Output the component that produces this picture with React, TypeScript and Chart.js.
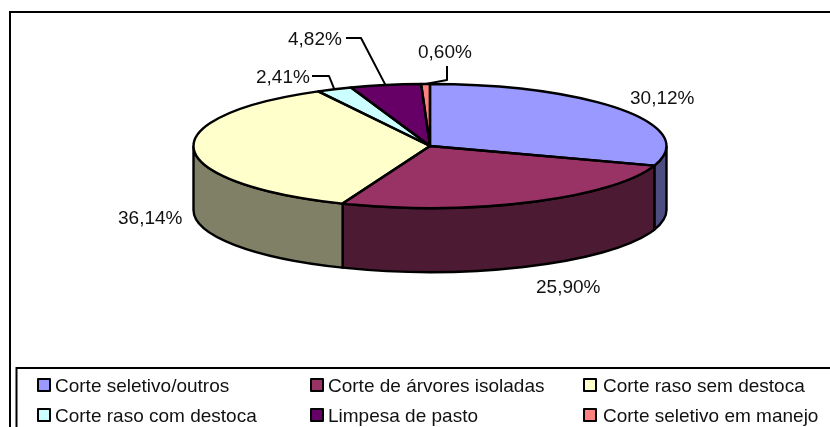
import React, { useEffect, useRef } from "react";
import { Chart, registerables } from "chart.js";

Chart.register(...registerables);

const categories = [
  "Corte seletivo/outros",
  "Corte de árvores isoladas",
  "Corte raso sem destoca",
  "Corte raso com destoca",
  "Limpesa de pasto",
  "Corte seletivo em manejo",
];
const shares = [30.12, 25.9, 36.14, 2.41, 4.82, 0.6];
const shareLabels = ["30,12%", "25,90%", "36,14%", "2,41%", "4,82%", "0,60%"];
const topColors = ["#9999FF", "#993366", "#FFFFCC", "#CCFFFF", "#660066", "#FF8080"];
const wallColors = ["#4D4D80", "#4D1A33", "#808066", "#668080", "#330033", "#804040"];

// Layout
const LEGEND_FONT = '19px "Liberation Sans", Arial, sans-serif';
const LABEL_FONT = '19px "Liberation Sans", Arial, sans-serif';
const TEXT = "#111";
const RX = 236.5;
const RY = 62;
const DEPTH = 64;
// label left x, baseline y, and optional leader bend points
const labelLayout: { x: number; y: number; bend?: number[][] }[] = [
  { x: 630, y: 104 },
  { x: 536, y: 293 },
  { x: 118, y: 224 },
  { x: 256, y: 83, bend: [[312, 76], [329, 76]] },
  { x: 288, y: 45, bend: [[346, 38], [361, 38]] },
  { x: 418, y: 58, bend: [[447, 66], [447, 80]] },
];
const legendBoxX = [38, 311, 584];
const legendTextX = [55, 328, 603];
const legendRows = [392, 422];

const pie3d = {
  id: "pie3d",
  beforeDatasetsDraw(chart: any) {
    const ctx = chart.ctx;
    const arcs = chart.getDatasetMeta(0).data;
    const k = RY / RX;
    ctx.save();
    // frames
    ctx.strokeStyle = "#000";
    ctx.lineWidth = 2;
    ctx.beginPath();
    ctx.moveTo(10, 440);
    ctx.lineTo(10, 12);
    ctx.lineTo(840, 12);
    ctx.moveTo(16.5, 440);
    ctx.lineTo(16.5, 368);
    ctx.lineTo(840, 368);
    ctx.stroke();
    // extruded front wall
    ctx.lineWidth = 2.4;
    arcs.forEach((arc: any, i: number) => {
      const a1 = Math.max(arc.startAngle, 0);
      const a2 = Math.min(arc.endAngle, Math.PI);
      if (a2 <= a1) return;
      const r = arc.outerRadius;
      ctx.beginPath();
      ctx.ellipse(arc.x, arc.y, r, r * k, 0, a1, a2, false);
      ctx.ellipse(arc.x, arc.y + DEPTH, r, r * k, 0, a2, a1, true);
      ctx.closePath();
      ctx.fillStyle = wallColors[i];
      ctx.fill();
      ctx.stroke();
    });
    ctx.restore();
  },
  beforeDatasetDraw(chart: any) {
    const ctx = chart.ctx;
    const { x, y } = chart.getDatasetMeta(0).data[0];
    ctx.save();
    ctx.translate(x, y);
    ctx.scale(1, RY / RX);
    ctx.translate(-x, -y);
  },
  afterDatasetDraw(chart: any) {
    chart.ctx.restore();
  },
  afterDatasetsDraw(chart: any) {
    const ctx = chart.ctx;
    const arcs = chart.getDatasetMeta(0).data;
    const k = RY / RX;
    ctx.save();
    ctx.strokeStyle = "#000";
    ctx.lineWidth = 2.4;
    ctx.lineJoin = "round";
    arcs.forEach((arc: any) => {
      const r = arc.outerRadius;
      ctx.beginPath();
      ctx.moveTo(arc.x, arc.y);
      ctx.ellipse(arc.x, arc.y, r, r * k, 0, arc.startAngle, arc.endAngle, false);
      ctx.closePath();
      ctx.stroke();
    });
    // labels and leaders
    ctx.lineWidth = 2;
    ctx.font = LABEL_FONT;
    ctx.fillStyle = TEXT;
    ctx.textBaseline = "alphabetic";
    ctx.textAlign = "left";
    arcs.forEach((arc: any, i: number) => {
      const lay = labelLayout[i];
      ctx.fillText(shareLabels[i], lay.x, lay.y);
      if (lay.bend) {
        const mid = (arc.startAngle + arc.endAngle) / 2;
        const r = arc.outerRadius;
        ctx.beginPath();
        ctx.moveTo(lay.bend[0][0], lay.bend[0][1]);
        ctx.lineTo(lay.bend[1][0], lay.bend[1][1]);
        ctx.lineTo(arc.x + r * Math.cos(mid), arc.y + r * k * Math.sin(mid));
        ctx.stroke();
      }
    });
    // legend
    ctx.font = LEGEND_FONT;
    categories.forEach((name, i) => {
      const base = legendRows[Math.floor(i / 3)];
      const bx = legendBoxX[i % 3];
      ctx.fillStyle = topColors[i];
      ctx.fillRect(bx, base - 13, 12, 12);
      ctx.strokeRect(bx, base - 13, 12, 12);
      ctx.fillStyle = TEXT;
      ctx.fillText(name, legendTextX[i % 3], base);
    });
    ctx.restore();
  },
};

export default function App() {
  const ref = useRef<HTMLCanvasElement>(null);
  useEffect(() => {
    const chart = new Chart(ref.current as HTMLCanvasElement, {
      type: "pie",
      data: {
        labels: categories,
        datasets: [
          {
            data: shares,
            backgroundColor: topColors,
            borderWidth: 0,
            clip: false,
          } as any,
        ],
      },
      options: {
        animation: false,
        responsive: false,
        radius: RX,
        layout: { padding: { left: 30, top: 0, right: 0, bottom: 135 } },
        plugins: { legend: { display: false }, tooltip: { enabled: false } },
      } as any,
      plugins: [pie3d],
    });
    return () => chart.destroy();
  }, []);
  return (
    <div style={{ position: "fixed", left: 0, top: 0, width: 830, height: 427, background: "#fff" }}>
      <canvas ref={ref} width={830} height={427} style={{ display: "block" }} />
    </div>
  );
}
